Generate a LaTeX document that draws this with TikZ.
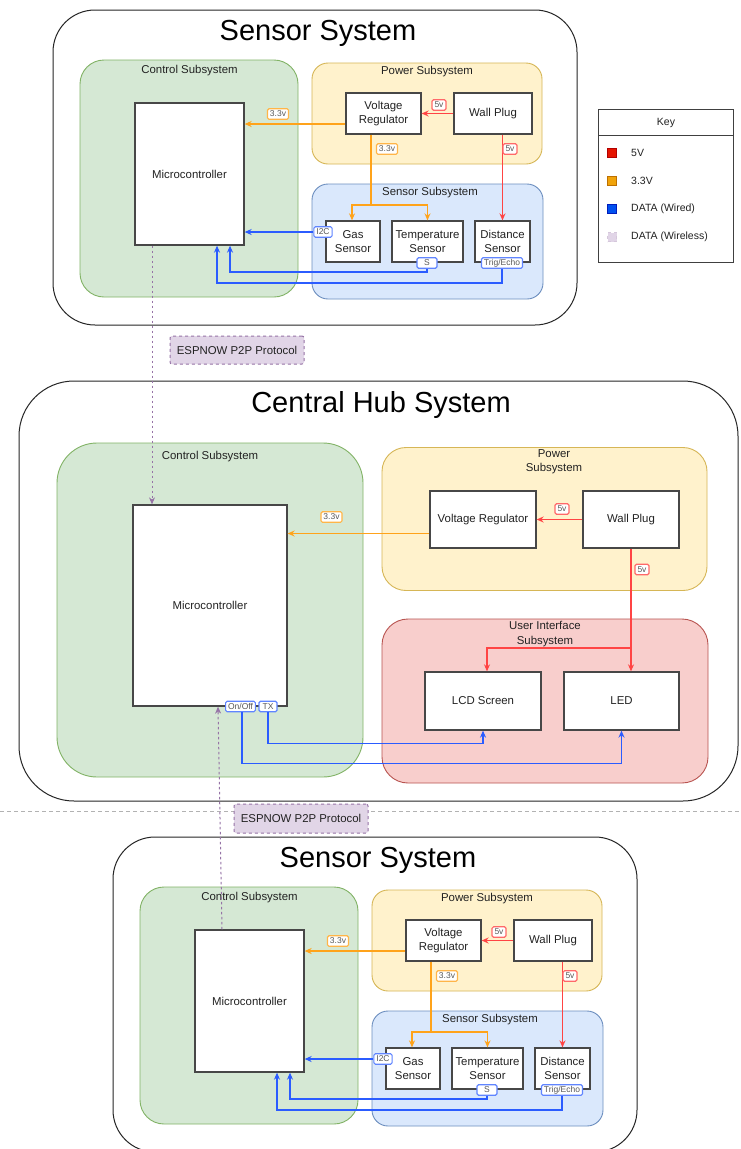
\documentclass[tikz,border=0pt]{standalone}
\usepackage{fontspec}
\setmainfont{Liberation Sans}
\usetikzlibrary{arrows.meta}
\definecolor{gfill}{HTML}{D5E8D4}\definecolor{gdraw}{HTML}{82B366}
\definecolor{yfill}{HTML}{FFF2CC}\definecolor{ydraw}{HTML}{D6B656}
\definecolor{bfill}{HTML}{DAE8FC}\definecolor{bdraw}{HTML}{6C8EBF}
\definecolor{rfill}{HTML}{F8CECC}\definecolor{rdraw}{HTML}{B85450}
\definecolor{pfill}{HTML}{E1D5E7}\definecolor{pdraw}{HTML}{9673A6}
\definecolor{fivev}{HTML}{FF4444}
\definecolor{threev}{HTML}{FFA31A}
\definecolor{wire}{HTML}{2B5CFF}
\definecolor{txt}{HTML}{222222}
\definecolor{k5}{HTML}{E51400}\definecolor{k5d}{HTML}{B20000}
\definecolor{k33}{HTML}{F0A30A}\definecolor{k33d}{HTML}{BD7000}
\definecolor{kw}{HTML}{0050EF}\definecolor{kwd}{HTML}{001DBC}
\newcommand{\fsz}[2]{\fontsize{#1pt}{#2pt}\selectfont}
\tikzset{
 system/.style={draw=black!85, line width=1pt, fill=white, rounded corners=42pt, inner sep=0},
 subbox/.style={line width=0.9pt, inner sep=0},
 ctrlbox/.style={subbox, fill=gfill, draw=gdraw},
 powbox/.style={subbox, fill=yfill, draw=ydraw},
 sensbox/.style={subbox, fill=bfill, draw=bdraw},
 uibox/.style={subbox, fill=rfill, draw=rdraw},
 comp/.style={draw=black!72, fill=white, line width=1.3pt, align=center, font=\fsz{11.4}{14}, text=txt, inner sep=0},
 subtitle/.style={font=\fsz{11.4}{14.5}, text=txt, align=center, inner sep=0},
 bigtitle/.style={font=\fsz{29}{34}, text=black, inner sep=0},
 lbl/.style={fill=white, rounded corners=1.5pt, line width=1.1pt, font=\fsz{8.5}{10}, inner xsep=2.5pt, inner ysep=0, minimum height=10.5pt, text=black!65},
 lbl5/.style={lbl, draw=fivev!80},
 lbl33/.style={lbl, draw=threev!80},
 lbld/.style={lbl, draw=wire!75},
 arr/.style={-{Stealth[length=7pt,width=6pt]}},
 v5/.style={draw=fivev, line width=1.3pt},
 v33/.style={draw=threev, line width=1.3pt},
 wired/.style={draw=wire, line width=1.4pt},
 wless/.style={draw=pdraw, line width=1pt, dash pattern=on 2.5pt off 2.5pt},
 espnow/.style={fill=pfill, draw=pdraw, dashed, line width=1pt, rounded corners=2pt, font=\fsz{11.4}{14}, text=txt, inner sep=0},
 keytext/.style={anchor=west, font=\fsz{10.5}{12}, text=txt, inner sep=0},
 keysq/.style={minimum size=9pt, inner sep=0, line width=0.9pt},
}
\newcommand{\SensorSys}[3]{%
\begin{scope}[shift={(#2,#3)}]
 \node[system, minimum width=524pt, minimum height=315pt] (#1sys) at (315,167.5) {};
 \node[bigtitle] (#1title) at (318,33) {Sensor System};
 \node[ctrlbox, rounded corners=24pt, minimum width=218pt, minimum height=237pt] (#1ctrl) at (189,178.5) {};
 \node[subtitle] (#1ctrlt) at (189.5,70.5) {Control Subsystem};
 \node[comp, minimum width=109pt, minimum height=142pt] (#1micro) at (189.5,174) {Microcontroller};
 \node[powbox, rounded corners=16pt, minimum width=230pt, minimum height=101pt] (#1pow) at (427,113.5) {};
 \node[subtitle] (#1powt) at (427,72) {Power Subsystem};
 \node[comp, minimum width=75pt, minimum height=41pt] (#1vr) at (383.5,113.5) {Voltage\\Regulator};
 \node[comp, minimum width=78pt, minimum height=41pt] (#1wp) at (493,113.5) {Wall Plug};
 \node[sensbox, rounded corners=16pt, minimum width=231pt, minimum height=115pt] (#1sens) at (427.5,241.5) {};
 \node[subtitle] (#1senst) at (430,193) {Sensor Subsystem};
 \node[comp, minimum width=54pt, minimum height=41pt] (#1gas) at (353,241.5) {Gas\\Sensor};
 \node[comp, minimum width=71pt, minimum height=41pt] (#1temp) at (427.5,241.5) {Temperature\\Sensor};
 \node[comp, minimum width=55pt, minimum height=41pt] (#1dist) at (502.5,241.5) {Distance\\Sensor};
 % labels on ports
 \node[lbld] (#1i2c) at (323,232) {I2C};
 \node[lbld, minimum width=20pt] (#1s) at (427,263) {S};
 \node[lbld] (#1trig) at (502,263) {Trig/Echo};
 % power connectors
 \draw[v5,arr] (#1wp.west) -- (#1vr.east);
 \draw[v5,arr] ([xshift=9.5pt]#1wp.south) -- (#1dist.north);
 \coordinate (#1o1) at ([yshift=-10.5pt]#1vr.west);
 \draw[v33,arr] (#1o1) -- (#1o1 -| #1micro.east);
 \coordinate (#1j) at (371,205);
 \draw[v33] ([xshift=-12.5pt]#1vr.south) -- (#1j);
 \draw[v33,arr] (#1j) -| ([xshift=-1pt]#1gas.north);
 \draw[v33,arr] (#1j) -| (#1temp.north);
 % data connectors
 \draw[wired,arr] (#1i2c.west) -- (#1i2c.west -| #1micro.east);
 \coordinate (#1b1) at (230,272);
 \draw[wired,arr] (#1s.south) |- (#1b1) -- (#1b1 |- #1micro.south);
 \coordinate (#1b2) at (217,283);
 \draw[wired,arr] (#1trig.south) |- (#1b2) -- (#1b2 |- #1micro.south);
 % value labels
 \node[lbl33] (#1l1) at (278,114) {3.3v};
 \node[lbl5] (#1l2) at (439,105) {5v};
 \node[lbl33] (#1l3) at (387,149) {3.3v};
 \node[lbl5] (#1l4) at (510,149) {5v};
\end{scope}}
\begin{document}
\begin{tikzpicture}[x=1pt,y=-1pt]
\useasboundingbox (0,0) rectangle (740,1149);
\fill[white] (0,0) rectangle (740,1149);

% top sensor system
\SensorSys{sa}{0}{0}

% key
\node[draw=black!75, line width=0.9pt, fill=white, minimum width=135pt, minimum height=153pt, inner sep=0] (key) at (665.5,185.5) {};
\coordinate (kd) at (598,135);
\draw[black!75, line width=0.9pt] (kd) -- (kd -| key.east);
\node[font=\fsz{10.5}{12}, text=txt, inner sep=0] (keyt) at (666,123) {Key};
\node[keysq, fill=k5, draw=k5d] (k1) at (612,153) {};
\node[keytext] (k1t) at (631,153) {5V};
\node[keysq, fill=k33, draw=k33d] (k2) at (612,181) {};
\node[keytext] (k2t) at (631,181) {3.3V};
\node[keysq, fill=kw, draw=kwd] (k3) at (612,209) {};
\node[keytext] (k3t) at (631,209) {DATA (Wired)};
\node[keysq, fill=pfill, draw=pdraw!40, dashed] (k4) at (612,237) {};
\node[keytext] (k4t) at (631,237) {DATA (Wireless)};

% ESPNOW labels
\node[espnow, minimum width=134pt, minimum height=28pt] (esp1) at (237,350) {ESPNOW P2P Protocol};

% central hub
\node[system, rounded corners=55pt, minimum width=719pt, minimum height=420pt] (hub) at (378.5,591) {};
\node[bigtitle] (hubtitle) at (381,405) {Central Hub System};
\node[ctrlbox, rounded corners=40pt, minimum width=306pt, minimum height=334pt] (hubctrl) at (210,610) {};
\node[subtitle] (hubctrlt) at (210,457) {Control Subsystem};
\node[comp, minimum width=154pt, minimum height=201pt] (hubmicro) at (210,605.5) {Microcontroller};
\node[powbox, rounded corners=24pt, minimum width=325pt, minimum height=143pt] (hubpow) at (544.5,519) {};
\node[subtitle] (hubpowt) at (554,462) {Power\\Subsystem};
\node[comp, minimum width=106pt, minimum height=57pt] (hubvr) at (483,519.5) {Voltage Regulator};
\node[comp, minimum width=96pt, minimum height=57pt] (hubwp) at (631,519.5) {Wall Plug};
\node[uibox, rounded corners=26pt, minimum width=326pt, minimum height=164pt] (hubui) at (545,701) {};
\node[subtitle, font=\fsz{11.4}{15}] (hubuit) at (545,634.5) {User Interface\\Subsystem};
\node[comp, minimum width=116pt, minimum height=58pt] (hublcd) at (483,701) {LCD Screen};
\node[comp, minimum width=115pt, minimum height=58pt] (hubled) at (621.5,701) {LED};
\node[lbld] (onoff) at (240.5,706.5) {On/Off};
\node[lbld, minimum width=18pt] (tx) at (268,706.5) {TX};
% hub connectors
\draw[v5,arr] (hubwp.west) -- (hubvr.east);
\coordinate (ho) at ([yshift=-14pt]hubvr.west);
\draw[v33,arr] (ho) -- (ho -| hubmicro.east);
\draw[v5,arr] (hubwp.south) -- (hubwp.south |- hubled.north);
\coordinate (hj) at (631,648);
\draw[v5,arr] (hj) -| ([xshift=4pt]hublcd.north);
\draw[wired,arr] ([xshift=1.5pt]onoff.south) |- ([yshift=-33pt]hubled.south) -- (hubled.south);
\draw[wired,arr] (tx.south) |- ([yshift=-13pt]hublcd.south) -- (hublcd.south);
\node[lbl33] (hl1) at (331.5,517) {3.3v};
\node[lbl5] (hl2) at (562,509) {5v};
\node[lbl5] (hl3) at (642,569.5) {5v};

% separator
\coordinate (sepl) at (0,811);
\coordinate (sepr) at (740,811);
\draw[black!30, line width=0.8pt, dash pattern=on 4pt off 3pt] (sepl) -- (sepr);
\node[espnow, minimum width=134pt, minimum height=29pt] (esp2) at (301,818.5) {ESPNOW P2P Protocol};

% bottom sensor system
\SensorSys{sb}{60}{827}

% wireless links
\coordinate (w1) at ([xshift=-37.5pt]samicro.south);
\draw[wless,arr] (w1) -- (w1 |- hubmicro.north);
\coordinate (w2) at ([xshift=-27.5pt]sbmicro.north);
\draw[wless,arr] (w2) -- ([xshift=8pt]hubmicro.south);
\end{tikzpicture}
\end{document}
